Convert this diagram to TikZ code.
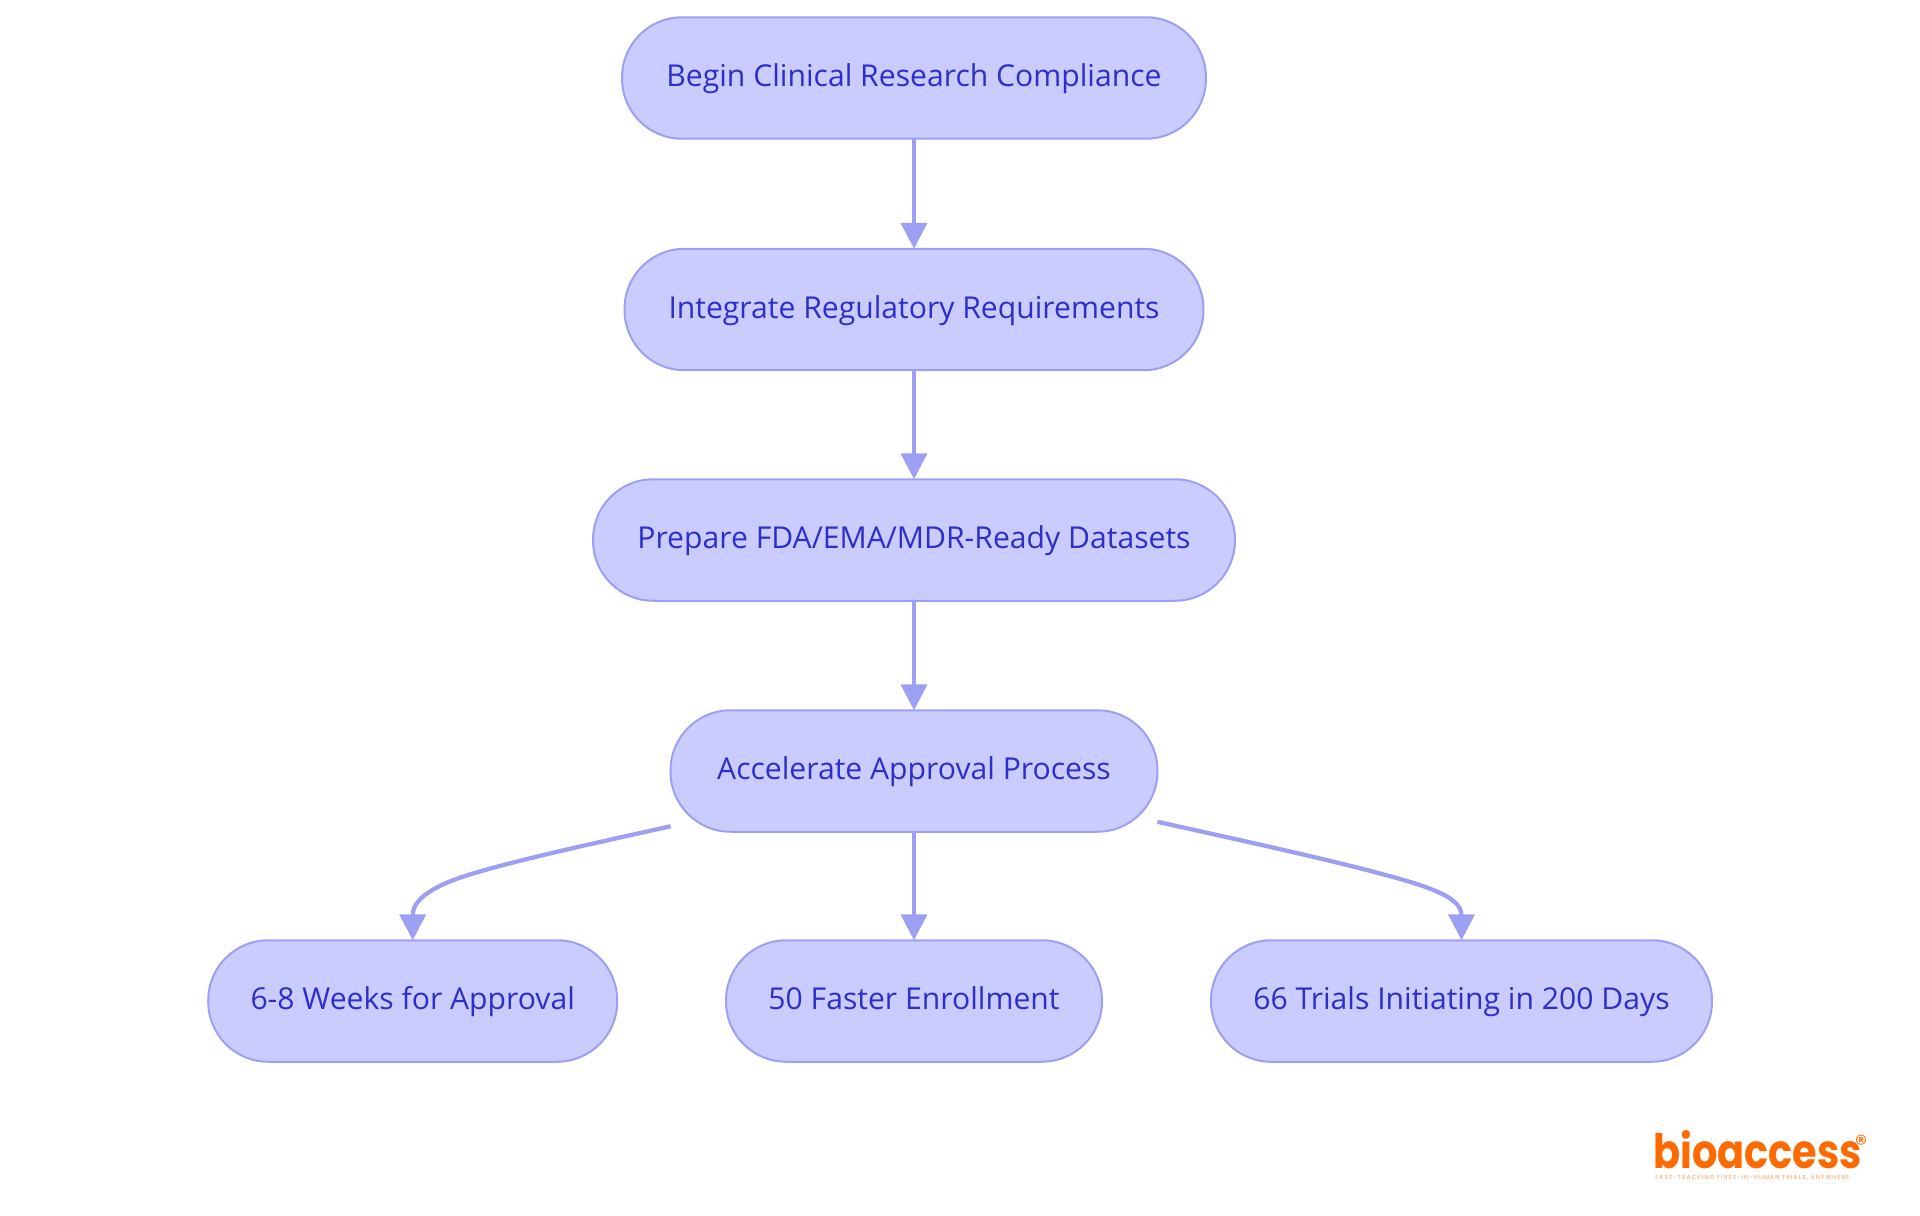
\documentclass[tikz,border=0pt]{standalone}
\usepackage{fontspec}
\setmainfont{Open Sans}
\newfontfamily\logofont{Poppins}
\newfontfamily\tagfont[LetterSpace=20]{Poppins}
\usetikzlibrary{arrows.meta}
\definecolor{stepfill}{HTML}{CACBFF}
\definecolor{stepline}{HTML}{9DA0F2}
\definecolor{steptext}{HTML}{2C2FC9}
\definecolor{logoorange}{HTML}{FF6A00}
\tikzset{
  stepbox/.style={draw=stepline,fill=stepfill,text=steptext,line width=.04cm,rounded corners=1.2cm,
    minimum height=2.43cm,outer sep=0pt,inner sep=0pt,text height=.44cm,text depth=.10cm,
    font=\fontsize{17.15}{20}\selectfont},
  flow/.style={draw=stepline,line width=.085cm,-{Triangle[length=.52cm,width=.52cm]}},
}
\begin{document}
\begin{tikzpicture}[x=.02cm,y=-.02cm]
\useasboundingbox (0,0) rectangle (1920,1215);

\node[stepbox,minimum width=11.68cm] (begincomp) at (914,78) {Begin Clinical Research Compliance};
\node[stepbox,minimum width=11.58cm] (integrate) at (914,309.5) {Integrate Regulatory Requirements};
\node[stepbox,minimum width=12.84cm] (datasets) at (914,540) {Prepare FDA/EMA/MDR-Ready Datasets};
\node[stepbox,minimum width=9.74cm] (accel) at (914,771) {Accelerate Approval Process};
\node[stepbox,minimum width=8.18cm] (weeks) at (412.7,1001) {6-8 Weeks for Approval};
\node[stepbox,minimum width=7.52cm] (enroll) at (914,1001) {50 Faster Enrollment};
\node[stepbox,minimum width=10.02cm] (trials) at (1461.5,1001) {66 Trials Initiating in 200 Days};

\draw[flow] (begincomp.south) -- (integrate.north);
\draw[flow] (integrate.south) -- (datasets.north);
\draw[flow] (datasets.south) -- (accel.north);
\draw[flow] (accel.south) -- (enroll.north);

\coordinate (leftstart) at ([yshift=.11cm]accel.south west);
\coordinate (rightstart) at ([yshift=.2cm]accel.south east);
\draw[flow] (leftstart) .. controls (600,842) and (530,857) .. (478,872) .. controls (445,881.5) and (412.7,895) .. (weeks.north);
\draw[flow] (rightstart) .. controls (1230,838) and (1300,853) .. (1367,870) .. controls (1420,884) and (1461.5,895) .. (trials.north);

\node[text=logoorange,font=\logofont\bfseries\fontsize{27}{27}\selectfont,anchor=base west,inner sep=0pt,xscale=.84,transform shape] (logo) at (1653,1168) {bioaccess};
\node[text=logoorange,font=\logofont\fontsize{14}{14}\selectfont,inner sep=0pt] (reg) at (1861,1144) {®};
\node[text=logoorange!70,font=\tagfont\fontsize{3.3}{3.3}\selectfont,anchor=base west,inner sep=0pt] (tagline) at (1655,1179) {FAST-TRACKING FIRST-IN-HUMAN TRIALS, ANYWHERE};
\end{tikzpicture}
\end{document}
